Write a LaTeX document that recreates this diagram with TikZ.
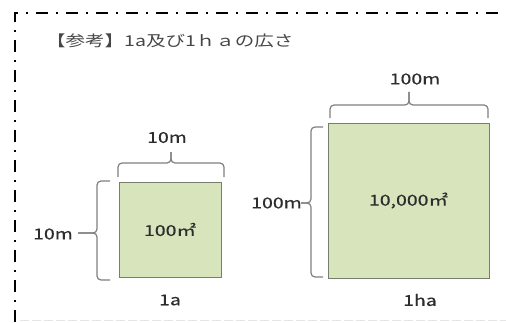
\documentclass[tikz,border=0pt]{standalone}
\usepackage{fontspec}
\newfontfamily\jp[FakeStretch=1.3, FakeBold=0.35]{Noto Sans CJK JP}
\newfontfamily\jptitle[FakeStretch=1.3]{Noto Sans CJK JP}
\usetikzlibrary{positioning}
\definecolor{areagreen}{RGB}{216,228,188}
\definecolor{edgegray}{RGB}{118,126,108}
\definecolor{bracegray}{RGB}{128,128,128}
\definecolor{txtgray}{RGB}{45,45,45}
\definecolor{titlegray}{RGB}{70,70,70}

\begin{document}
\begin{tikzpicture}[x=1pt,y=1pt,
    lbl/.style={font=\jp\fontsize{15}{15}\selectfont, text=txtgray, inner sep=0pt},
    plotarea/.style={draw=edgegray, fill=areagreen, line width=1pt, inner sep=0pt,
      font=\jp\fontsize{15}{15}\selectfont, text=txtgray},
    brace/.style={draw=bracegray, line width=1.2pt, rounded corners=4pt},
    frame/.style={line width=1.8pt, dash pattern=on 12pt off 8pt on 2pt off 8pt}]

  \useasboundingbox (0,0) rectangle (506,322);

  % dash-dot frame
  \draw[frame] (15,0) -- (15,309) -- (506,309);
  \draw[black!10, line width=0.8pt, dash pattern=on 9pt off 3pt] (20,2) -- (506,2);

  \node[lbl, font=\jptitle\fontsize{15}{15}\selectfont, text=titlegray, anchor=west]
    (title) at (46,281) {【参考】1a及び1ｈａの広さ};

  % 1 a
  \node[plotarea, minimum width=102pt, minimum height=95pt] (sqa) at (170,92.5) {100㎡};
  \coordinate (tipa) at (171,170);
  \coordinate (tipaleft) at (78,89);
  \draw[brace] (118,145) -- (118,159) -- (171,159) -- (tipa);
  \draw[brace] (224,145) -- (224,159) -- (171,159) -- (tipa);
  \draw[brace] (110,141) -- (97,141) -- (97,89) -- (tipaleft);
  \draw[brace] (110,42) -- (97,42) -- (97,89) -- (tipaleft);
  \node[lbl] (widtha) at (167,184.5) {10m};
  \node[lbl] (heighta) at (53,88) {10m};
  \node[lbl] (namea) at (170,22) {1a};

  % 1 ha
  \node[plotarea, minimum width=161pt, minimum height=155pt] (sqha) at (408.5,121.5) {10,000㎡};
  \coordinate (tipha) at (409,230);
  \coordinate (tiphaleft) at (301,119);
  \draw[brace] (330,204) -- (330,217) -- (409,217) -- (tipha);
  \draw[brace] (488,204) -- (488,217) -- (409,217) -- (tipha);
  \draw[brace] (323,195) -- (311,195) -- (311,119) -- (tiphaleft);
  \draw[brace] (323,45) -- (311,45) -- (311,119) -- (tiphaleft);
  \node[lbl] (widthha) at (415,243) {100m};
  \node[lbl] (heightha) at (276.5,119) {100m};
  \node[lbl] (nameha) at (420,22) {1ha};
\end{tikzpicture}
\end{document}
